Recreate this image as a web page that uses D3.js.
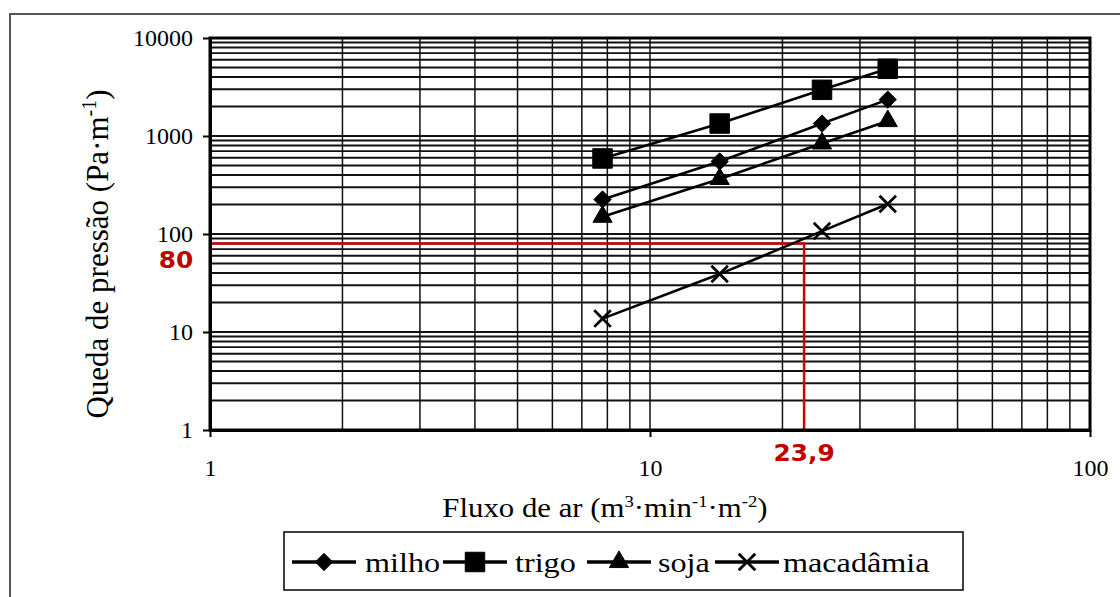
<!DOCTYPE html>
<html>
<head>
<meta charset="utf-8">
<script src="https://cdn.jsdelivr.net/npm/d3@7"></script>
<style>
  body { margin: 0; background: #fff; }
  svg { display: block; }
  text { font-family: "Liberation Serif", "Times New Roman", serif; }
</style>
</head>
<body>
<svg id="chart" width="1120" height="597"></svg>
<script>
// Pressure drop vs air flow (log-log)

const flow = [7.8, 14.4, 24.6, 34.7];
const milho = [225, 550, 1340, 2350];
const trigo = [590, 1340, 2960, 4850];
const soja = [150, 365, 840, 1420];
const macadamia = [13.7, 39, 107, 202];

const seriesNames = ['milho', 'trigo', 'soja', 'macadâmia'];
const xTickLabels = [1, 10, 100];
const yTickLabels = [1, 10, 100, 1000, 10000];

// reference lines (red)
const refPressure = 80;
const refFlow = 22.4;
const refFlowLabel = '23,9';
const refPressureLabel = '80';

const serif = '"Liberation Serif", "Times New Roman", serif';
const svg = d3.select('#chart');

const plotLeft = 210, plotRight = 1090, plotTop = 38, plotBottom = 430;

const x = d3.scaleLog().domain([1, 100]).range([plotLeft, plotRight]);
const y = d3.scaleLog().domain([1, 10000]).range([plotBottom, plotTop]);

// text placed at (tx, ty), widened a little like the scanned original
function wideText(parent, tx, ty, sx) {
    return parent.append('g')
        .attr('transform', `translate(${tx},${ty}) scale(${sx},1)`)
        .append('text');
}

// Outer frame
svg.append('rect')
    .attr('x', 10).attr('y', 14)
    .attr('width', 1120).attr('height', 600)
    .attr('fill', 'none')
    .attr('stroke', '#555')
    .attr('stroke-width', 2);

// Grid lines
svg.append('g')
    .selectAll('line')
    .data(y.ticks())
    .enter()
    .append('line')
    .attr('x1', plotLeft).attr('x2', plotRight)
    .attr('y1', d => y(d)).attr('y2', d => y(d))
    .attr('stroke', '#111')
    .attr('stroke-width', 1.8);

svg.append('g')
    .selectAll('line')
    .data(x.ticks())
    .enter()
    .append('line')
    .attr('y1', plotTop).attr('y2', plotBottom)
    .attr('x1', d => x(d)).attr('x2', d => x(d))
    .attr('stroke', '#111')
    .attr('stroke-width', 1.5);

// Red reference lines
svg.append('path')
    .attr('d', `M${plotLeft},${y(refPressure)}H${x(refFlow)}V${plotBottom}`)
    .attr('fill', 'none')
    .attr('stroke', '#d40000')
    .attr('stroke-width', 2.5);

// Plot border
svg.append('rect')
    .attr('x', plotLeft).attr('y', plotTop)
    .attr('width', plotRight - plotLeft).attr('height', plotBottom - plotTop)
    .attr('fill', 'none')
    .attr('stroke', '#000')
    .attr('stroke-width', 3);

// Axes
const yAxis = svg.append('g')
    .attr('transform', `translate(${plotLeft},0)`)
    .call(d3.axisLeft(y).tickValues(yTickLabels).tickFormat(d3.format('d')).tickSize(7).tickSizeOuter(0).tickPadding(10));

const xAxis = svg.append('g')
    .attr('transform', `translate(0,${plotBottom})`)
    .call(d3.axisBottom(x).tickValues(xTickLabels).tickFormat(d3.format('d')).tickSize(7).tickSizeOuter(0).tickPadding(22));

[yAxis, xAxis].forEach(ax => {
    ax.attr('font-family', null);
    ax.select('.domain').attr('stroke-width', 3);
    ax.selectAll('.tick line').attr('stroke-width', 2);
    ax.selectAll('text')
        .style('font-family', serif)
        .style('font-size', '24px')
        .attr('fill', '#000');
});

// Red labels
wideText(svg, 176, 268, 1.08)
    .attr('text-anchor', 'middle')
    .style('font-family', '"DejaVu Sans", sans-serif')
    .style('font-size', '23px')
    .style('font-weight', 'bold')
    .attr('fill', '#c00000')
    .text(refPressureLabel);

wideText(svg, x(refFlow), 461, 1.08)
    .attr('text-anchor', 'middle')
    .style('font-family', '"DejaVu Sans", sans-serif')
    .style('font-size', '23px')
    .style('font-weight', 'bold')
    .attr('fill', '#c00000')
    .text(refFlowLabel);

// Axis titles
const yTitle = svg.append('text')
    .attr('transform', `translate(108,${(plotTop + plotBottom) / 2 + 20}) rotate(-90)`)
    .attr('text-anchor', 'middle')
    .style('font-family', serif)
    .style('font-size', '31px');
yTitle.append('tspan').text('Queda de pressão (Pa·m');
yTitle.append('tspan').attr('dy', -12).style('font-size', '20px').text('-1');
yTitle.append('tspan').attr('dy', 12).text(')');

const xTitle = wideText(svg, 605, 517, 1.1)
    .attr('text-anchor', 'middle')
    .style('font-family', serif)
    .style('font-size', '28px');
xTitle.append('tspan').text('Fluxo de ar (m');
xTitle.append('tspan').attr('dy', -10).style('font-size', '17px').text('3');
xTitle.append('tspan').attr('dy', 10).text('·min');
xTitle.append('tspan').attr('dy', -10).style('font-size', '17px').text('-1');
xTitle.append('tspan').attr('dy', 10).text('·m');
xTitle.append('tspan').attr('dy', -10).style('font-size', '17px').text('-2');
xTitle.append('tspan').attr('dy', 10).text(')');

// Series
const series = [
    { name: seriesNames[0], values: milho, symbol: d3.symbolDiamond2, size: 190 },
    { name: seriesNames[1], values: trigo, symbol: d3.symbolSquare, size: 380 },
    { name: seriesNames[2], values: soja, symbol: d3.symbolTriangle, size: 160 },
    { name: seriesNames[3], values: macadamia, symbol: d3.symbolX, size: 180 }
];

const line = d3.line()
    .x((d, i) => x(flow[i]))
    .y(d => y(d));

function drawMarker(g, s, cx, cy) {
    const isX = s.symbol === d3.symbolX;
    g.append('path')
        .attr('d', d3.symbol().type(s.symbol).size(s.size)())
        .attr('transform', `translate(${cx},${cy})`)
        .attr('fill', isX ? 'none' : '#000')
        .attr('stroke', '#000')
        .attr('stroke-width', isX ? 2.8 : 1);
}

series.forEach(s => {
    svg.append('path')
        .datum(s.values)
        .attr('d', line)
        .attr('fill', 'none')
        .attr('stroke', '#000')
        .attr('stroke-width', 2.6);

    s.values.forEach((v, i) => drawMarker(svg, s, x(flow[i]), y(v)));
});

// Legend
const legend = svg.append('g');
legend.append('rect')
    .attr('x', 284).attr('y', 532)
    .attr('width', 679).attr('height', 58)
    .attr('fill', '#fff')
    .attr('stroke', '#000')
    .attr('stroke-width', 1.5);

const legendX = [292, 443, 587, 715];
const legendTextX = [365, 515, 658, 783];
series.forEach((s, i) => {
    const ly = 562;
    legend.append('line')
        .attr('x1', legendX[i]).attr('x2', legendX[i] + 64)
        .attr('y1', ly).attr('y2', ly)
        .attr('stroke', '#000')
        .attr('stroke-width', 3.5);
    drawMarker(legend, s, legendX[i] + 32, ly);
    wideText(legend, legendTextX[i], 572, 1.15)
        .style('font-family', serif)
        .style('font-size', '28px')
        .text(s.name);
});
</script>
</body>
</html>
